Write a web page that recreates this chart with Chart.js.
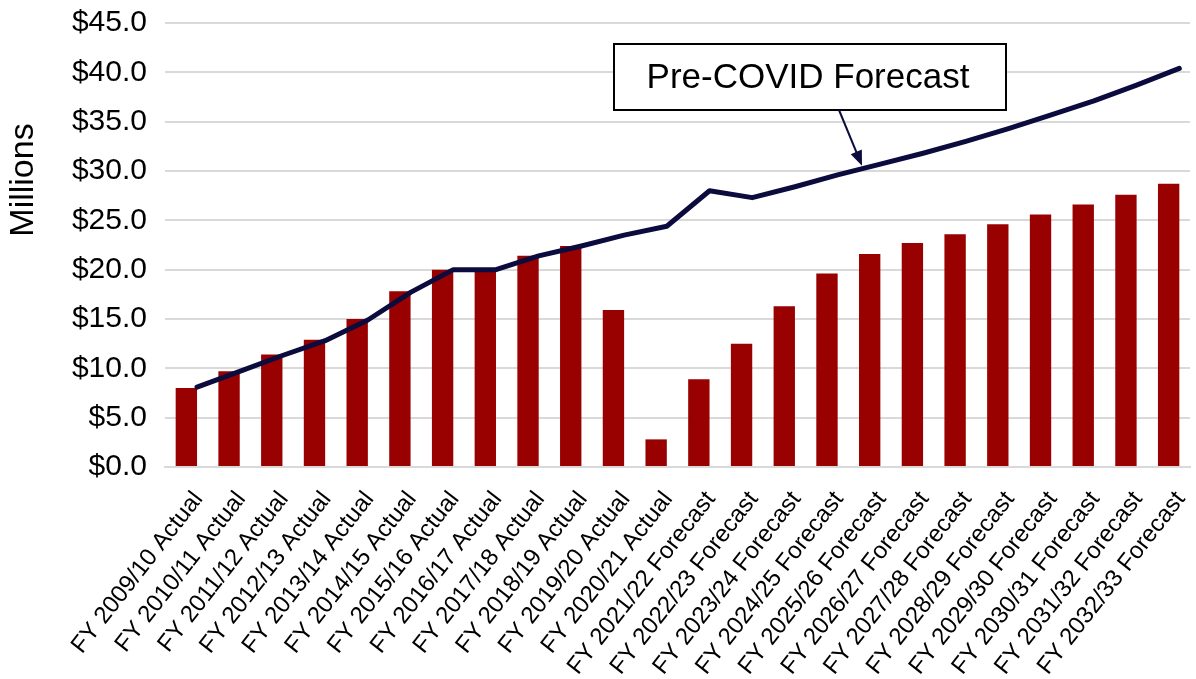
<!DOCTYPE html>
<html>
<head>
<meta charset="utf-8">
<script src="https://cdn.jsdelivr.net/npm/chart.js@4/dist/chart.umd.min.js"></script>
<style>
    html, body { margin: 0; padding: 0; background: #fff; }
    #wrap { width: 1196px; height: 679px; }
</style>
</head>
<body>
<div id="wrap"><canvas id="chart1" width="1196" height="679"></canvas></div>
<script>

// Datos
const years = ['2009/10', '2010/11', '2011/12', '2012/13', '2013/14', '2014/15', '2015/16', '2016/17',
    '2017/18', '2018/19', '2019/20', '2020/21', '2021/22', '2022/23', '2023/24', '2024/25',
    '2025/26', '2026/27', '2027/28', '2028/29', '2029/30', '2030/31', '2031/32', '2032/33']
const kinds = ['Actual', 'Actual', 'Actual', 'Actual', 'Actual', 'Actual', 'Actual', 'Actual',
    'Actual', 'Actual', 'Actual', 'Actual', 'Forecast', 'Forecast', 'Forecast', 'Forecast',
    'Forecast', 'Forecast', 'Forecast', 'Forecast', 'Forecast', 'Forecast', 'Forecast', 'Forecast']
const revenue = [8.0, 9.7, 11.4, 12.9, 15.0, 17.8, 20.0, 20.0, 21.4, 22.4, 15.9, 2.8,
    8.9, 12.5, 16.3, 19.6, 21.6, 22.7, 23.6, 24.6, 25.6, 26.6, 27.6, 28.7]
const preCovid = [8.1, 9.7, 11.3, 12.8, 14.9, 17.7, 20.0, 20.0, 21.4, 22.4, 23.5, 24.4,
    28.0, 27.3, 28.4, 29.6, 30.7, 31.8, 33.0, 34.3, 35.7, 37.1, 38.7, 40.4]
const yTicks = [0, 5, 10, 15, 20, 25, 30, 35, 40, 45]

const labels = years.map((y, i) => `FY ${y} ${kinds[i]}`)
const FONT = '"Liberation Sans", Arial, sans-serif'
const NAVY = '#0b0b3e'


// Anotaciones: titulo del eje y recuadro con flecha
const extras = {
    id: 'extras',
    afterDraw(chart) {
        const { ctx, scales } = chart

        ctx.save()
        ctx.fillStyle = '#000'
        ctx.font = `34px ${FONT}`
        ctx.textAlign = 'center'
        ctx.textBaseline = 'middle'
        ctx.translate(24, 180)
        ctx.rotate(-Math.PI / 2)
        ctx.fillText('Millions', 0, 0)
        ctx.restore()

        // recuadro
        ctx.save()
        ctx.fillStyle = '#fff'
        ctx.fillRect(614, 44, 392, 66)
        ctx.strokeStyle = '#000'
        ctx.lineWidth = 2
        ctx.strokeRect(614, 44, 392, 66)
        ctx.fillStyle = '#000'
        ctx.font = `35px ${FONT}`
        ctx.textAlign = 'center'
        ctx.textBaseline = 'middle'
        ctx.fillText('Pre-COVID Forecast', 808, 78)
        ctx.restore()

        // flecha hacia la linea
        const i = 15, t = 0.57
        const tipX = scales.x2.getPixelForValue(i + 0.25 + t)
        const tipY = scales.y.getPixelForValue(preCovid[i] + t * (preCovid[i + 1] - preCovid[i])) - 3
        const sx = 839, sy = 110
        const ang = Math.atan2(tipY - sy, tipX - sx)
        ctx.save()
        ctx.strokeStyle = NAVY
        ctx.fillStyle = NAVY
        ctx.lineWidth = 2
        ctx.beginPath()
        ctx.moveTo(sx, sy)
        ctx.lineTo(tipX - 12 * Math.cos(ang), tipY - 12 * Math.sin(ang))
        ctx.stroke()
        ctx.translate(tipX, tipY)
        ctx.rotate(ang)
        ctx.beginPath()
        ctx.moveTo(0, 0)
        ctx.lineTo(-15, -6)
        ctx.lineTo(-15, 6)
        ctx.closePath()
        ctx.fill()
        ctx.restore()
    }
}


const drawChart = () => {

    const data = {
        labels,
        datasets: [
            {
                type: 'line',
                data: preCovid.map((v, i) => ({ x: i + 0.25, y: v })),
                xAxisID: 'x2',
                borderColor: NAVY,
                borderWidth: 5,
                pointRadius: 0,
                tension: 0,
                borderJoinStyle: 'round',
                borderCapStyle: 'round',
                order: 0
            },
            {
                type: 'bar',
                data: revenue,
                xAxisID: 'x',
                backgroundColor: '#990000',
                categoryPercentage: 1,
                barPercentage: 0.5,
                grouped: false,
                order: 1
            }
        ]
    }

    const options = {
        responsive: false,
        animation: false,
        layout: { padding: { top: 23, right: 6, left: 0, bottom: 0 } },
        plugins: {
            legend: { display: false },
            tooltip: { enabled: false }
        },
        scales: {
            x: {
                type: 'category',
                offset: true,
                grid: { display: false },
                border: { display: true, color: '#d9d9d9', width: 2 },
                ticks: {
                    autoSkip: false,
                    minRotation: 52,
                    maxRotation: 52,
                    labelOffset: 12,
                    padding: 11,
                    color: '#000',
                    font: { family: FONT, size: 24 }
                },
                afterFit: scale => {
                    scale.height = 212
                    scale.paddingLeft = 0
                    scale.paddingRight = 0
                }
            },
            x2: {
                type: 'linear',
                display: false,
                min: -0.5,
                max: 23.5,
                offset: false
            },
            y: {
                min: 0,
                max: 45,
                afterBuildTicks: scale => { scale.ticks = yTicks.map(v => ({ value: v })) },
                grid: { color: '#d9d9d9', lineWidth: 2, drawTicks: false },
                border: { display: false },
                ticks: {
                    padding: 18,
                    color: '#000',
                    font: { family: FONT, size: 30 },
                    callback: v => '$' + v.toFixed(1)
                },
                afterFit: scale => {
                    scale.width = 165
                    scale.paddingTop = 0
                    scale.paddingBottom = 0
                }
            }
        }
    }

    new Chart('chart1', {
        data,
        options,
        plugins: [extras]
    })
}


drawChart()
</script>
</body>
</html>
